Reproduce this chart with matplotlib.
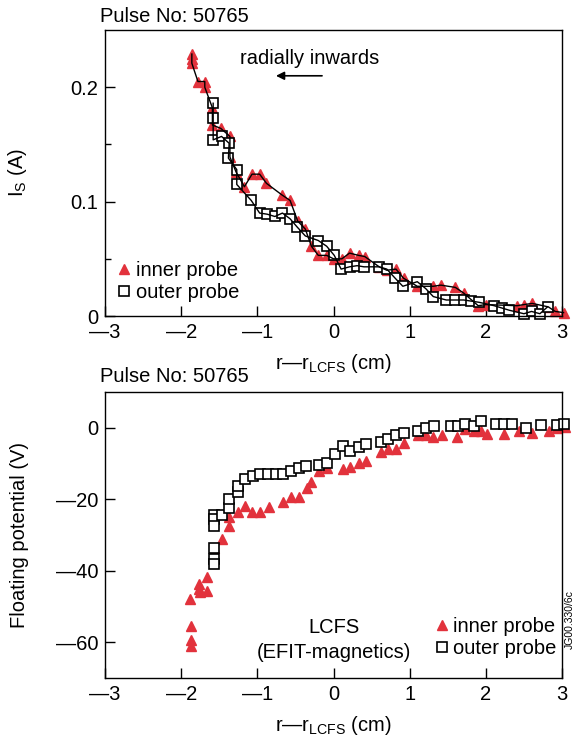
import numpy as np
import matplotlib.pyplot as plt

plt.rcParams['font.family'] = ['Liberation Sans', 'DejaVu Sans']
plt.rcParams['mathtext.fontset'] = 'custom'
plt.rcParams['mathtext.rm'] = 'Liberation Sans'
plt.rcParams['mathtext.it'] = 'Liberation Sans'

RED = '#e2323c'

# ion saturation current, I_S (A)
x_is_inner = [-1.86, -1.86, -1.86, -1.78, -1.69, -1.69, -1.59, -1.59, -1.48, -1.36,
              -1.36, -1.28, -1.17, -1.07, -0.97, -0.88, -0.68, -0.57, -0.47, -0.37,
              -0.29, -0.20, -0.09, 0.0, 0.11, 0.21, 0.33, 0.41, 0.60, 0.70,
              0.82, 0.92, 1.10, 1.31, 1.41, 1.60, 1.71, 1.90, 2.00, 2.41,
              2.50, 2.61, 2.82, 2.91, 3.02]
is_inner = [0.229, 0.225, 0.221, 0.205, 0.205, 0.200, 0.182, 0.167, 0.164, 0.157,
            0.139, 0.126, 0.113, 0.124, 0.124, 0.116, 0.106, 0.101, 0.083, 0.076,
            0.061, 0.053, 0.053, 0.050, 0.050, 0.055, 0.053, 0.052, 0.043, 0.040,
            0.041, 0.033, 0.026, 0.026, 0.027, 0.025, 0.020, 0.009, 0.010, 0.009,
            0.010, 0.011, 0.008, 0.004, 0.003]

x_is_outer = [-1.58, -1.58, -1.58, -1.47, -1.37, -1.38, -1.27, -1.27, -1.08, -0.97,
              -0.87, -0.77, -0.67, -0.57, -0.48, -0.37, -0.20, -0.09, 0.01, 0.10,
              0.21, 0.31, 0.40, 0.60, 0.70, 0.81, 0.91, 1.10, 1.21, 1.31,
              1.48, 1.60, 1.71, 1.81, 1.91, 2.11, 2.21, 2.31, 2.50, 2.60,
              2.71, 2.81]
is_outer = [0.186, 0.173, 0.154, 0.157, 0.151, 0.138, 0.128, 0.115, 0.101, 0.090,
            0.089, 0.087, 0.090, 0.085, 0.078, 0.070, 0.066, 0.061, 0.053, 0.041,
            0.043, 0.044, 0.043, 0.043, 0.041, 0.033, 0.026, 0.030, 0.024, 0.017,
            0.014, 0.014, 0.014, 0.013, 0.012, 0.009, 0.007, 0.005, 0.002, 0.004,
            0.002, 0.008]

# floating potential (V)
x_vf_inner = [-1.88, -1.87, -1.87, -1.87, -1.76, -1.76, -1.75, -1.66, -1.66, -1.57,
              -1.47, -1.37, -1.37, -1.25, -1.16, -1.07, -0.97, -0.85, -0.66, -0.56,
              -0.45, -0.35, -0.29, -0.19, -0.09, 0.12, 0.21, 0.33, 0.43, 0.62,
              0.72, 0.82, 0.93, 1.11, 1.21, 1.31, 1.43, 1.62, 1.73, 1.84,
              1.93, 2.02, 2.24, 2.43, 2.61, 2.83, 2.94, 3.04]
vf_inner = [-47.8, -55.5, -59.5, -61.0, -43.6, -45.0, -45.9, -41.7, -45.6, -33.7,
            -31.2, -27.5, -24.9, -23.5, -21.9, -23.7, -23.7, -22.3, -20.9, -19.3,
            -19.3, -16.9, -15.1, -12.0, -11.3, -11.6, -11.0, -9.9, -9.4, -6.9,
            -6.0, -6.0, -4.3, -2.0, -2.0, -2.6, -2.0, -2.6, -0.4, -0.8,
            -1.0, -1.7, -1.7, -1.0, -1.5, -0.8, -0.1, 0.2]

x_vf_outer = [-1.57, -1.57, -1.57, -1.57, -1.57, -1.57, -1.47, -1.37, -1.37, -1.26,
              -1.26, -1.16, -1.06, -0.97, -0.86, -0.76, -0.66, -0.56, -0.45, -0.36,
              -0.19, -0.09, 0.02, 0.12, 0.22, 0.33, 0.43, 0.62, 0.72, 0.82,
              0.93, 1.11, 1.22, 1.32, 1.54, 1.63, 1.73, 1.84, 1.93, 2.13,
              2.24, 2.34, 2.53, 2.73, 2.93, 3.03]
vf_outer = [-24.4, -25.6, -27.5, -33.7, -36.8, -38.1, -24.4, -22.5, -19.9, -17.9,
            -16.3, -14.4, -13.5, -13.0, -13.0, -13.0, -13.0, -12.2, -11.3, -10.8,
            -10.4, -9.9, -7.2, -5.2, -6.6, -5.5, -4.5, -4.0, -3.2, -2.0,
            -1.5, -1.0, -0.1, 0.6, 0.6, 0.6, 1.1, 0.6, 1.8, 1.1,
            1.1, 1.1, -0.1, 0.8, 0.8, 1.1]

x_ticks = [-3, -2, -1, 0, 1, 2, 3]
x_ticklabels = ['\u20143', '\u20142', '\u20141', '0', '1', '2', '3']
is_ticks = [0, 0.1, 0.2]
is_ticklabels = ['0', '0.1', '0.2']
vf_ticks = [0, -20, -40, -60]
vf_ticklabels = ['0', '\u201420', '\u201440', '\u201460']

FS = 14.5
xlab = 'r\u2014r$_{\\rm LCFS}$ (cm)'

fig = plt.figure(figsize=(5.77, 7.38), dpi=100)
ax1 = fig.add_axes([0.182, 0.5718, 0.792, 0.3875])
ax2 = fig.add_axes([0.182, 0.0813, 0.792, 0.3875])


def style(ax):
    ax.tick_params(direction='in', length=7, width=1, labelsize=FS, pad=5)
    ax.tick_params(which='minor', direction='in', length=4, width=1)
    for s in ax.spines.values():
        s.set_linewidth(1)
    ax.set_xlim(-3, 3)
    ax.set_xticks(x_ticks)
    ax.set_xticklabels(x_ticklabels)
    ax.set_xlabel(xlab, fontsize=FS, labelpad=7.5)
    ax.yaxis.set_label_coords(-0.166, 0.5)


# top panel
mk_in = dict(marker='^', color=RED, markersize=6.5, linestyle='none', clip_on=False)
mk_out = dict(marker='s', markerfacecolor='white', markeredgecolor='black',
              markeredgewidth=1.2, markersize=6.5, linestyle='none', clip_on=False)

h1, = ax1.plot(x_is_inner, is_inner, label='inner probe', **mk_in)
h2, = ax1.plot(x_is_outer, is_outer, label='outer probe', **mk_out)
ax1.plot(x_is_inner, is_inner, color='black', lw=1, clip_on=False)
ax1.plot(x_is_outer, is_outer, color='black', lw=1, clip_on=False)
ax1.set_ylim(0, 0.25)
ax1.set_yticks(is_ticks)
ax1.set_yticklabels(is_ticklabels)
ax1.set_yticks([0.05, 0.15], minor=True)
ax1.set_ylabel('I$_{\\rm S}$ (A)', fontsize=FS)
style(ax1)
ax1.legend(handles=[h1, h2], loc='lower left', bbox_to_anchor=(-0.008, 0.0),
           frameon=False, fontsize=FS, handlelength=0.8, handletextpad=0.2,
           labelspacing=0.15, borderaxespad=0.3)
ax1.text(0.447, 0.90, 'radially inwards', transform=ax1.transAxes,
         fontsize=FS, ha='center', va='center')
ax1.annotate('', xy=(0.368, 0.84), xytext=(0.481, 0.84), xycoords='axes fraction',
             arrowprops=dict(arrowstyle='-|>', color='black', lw=1.2,
                             mutation_scale=12))

# bottom panel
h3, = ax2.plot(x_vf_inner, vf_inner, label='inner probe', **mk_in)
h4, = ax2.plot(x_vf_outer, vf_outer, label='outer probe', **mk_out)
ax2.set_ylim(-70, 10)
ax2.set_yticks(vf_ticks)
ax2.set_yticklabels(vf_ticklabels)
ax2.set_ylabel('Floating potential (V)', fontsize=FS)
style(ax2)
ax2.legend(handles=[h3, h4], loc='lower right', bbox_to_anchor=(1.018, 0.02),
           frameon=False, fontsize=FS, handlelength=0.8, handletextpad=0.15,
           labelspacing=0.15, borderaxespad=0.3)
ax2.text(0.50, 0.175, 'LCFS', transform=ax2.transAxes, fontsize=FS,
         ha='center', va='center')
ax2.text(0.50, 0.09, '(EFIT-magnetics)', transform=ax2.transAxes, fontsize=FS,
         ha='center', va='center')

fig.text(100 / 577, 1 - 16 / 738, 'Pulse No: 50765', fontsize=FS, va='center')
fig.text(100 / 577, 1 - 377 / 738, 'Pulse No: 50765', fontsize=FS, va='center')
fig.text(570 / 577, 1 - 620 / 738, 'JG00.330/6c', fontsize=7.5, rotation=90,
         ha='center', va='center')

fig.savefig('out.png', dpi=100)
